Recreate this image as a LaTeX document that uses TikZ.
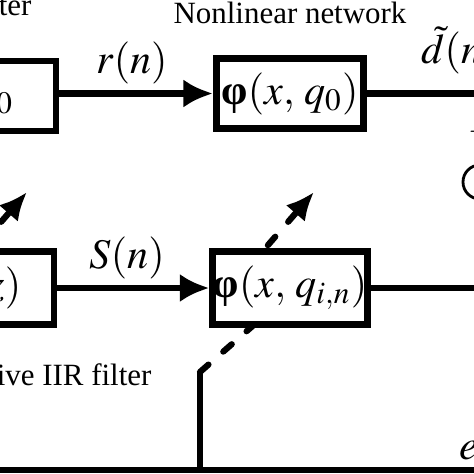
\documentclass[tikz,border=0pt]{standalone}
\usepackage{mathptmx}
\usepackage[no-math]{fontspec}
\setmainfont{Liberation Serif}
\usetikzlibrary{arrows.meta}
\usetikzlibrary{positioning}

\begin{document}
\begin{tikzpicture}[x=0.0125cm, y=-0.0125cm,
        box/.style={draw, line width=2.4pt, fill=white, minimum width=1.84cm,
                    minimum height=0.875cm, inner sep=0pt,
                    font=\fontsize{15}{17}\selectfont},
        wire/.style={line width=2.4pt},
        conn/.style={line width=2.4pt, -{Latex[length=10.5pt,width=10pt]}},
        tune/.style={line width=2.2pt, dash pattern=on 4pt off 7pt, line cap=round,
                     -{Latex[length=10pt,width=9pt]}},
        lbl/.style={inner sep=0pt, font=\fontsize{11}{13}\selectfont},
        sig/.style={inner sep=0pt, font=\fontsize{15}{17}\selectfont}]
\useasboundingbox (0,0) rectangle (474,474);

% adaptation arrows go under the boxes
\coordinate (tap) at (200,372);
\coordinate (tip) at (314,192);
\coordinate (tap2) at (-87,372);
\coordinate (tip2) at (27,192);
\draw[tune] (tap) -- ++(56,-49) -- ++(6,-71) -- (tip);
\draw[tune] (tap2) -- ++(56,-49) -- ++(6,-71) -- (tip2);

% upper branch
\node[box, minimum width=1.55cm] (iir) at (-6,96) {$\theta_0$};
\node[box] (net) at (290,93.5) {{\bfseries φ}$(x,\,q_0)$};
\node[lbl, above=0.38cm of net] (netlbl) {Nonlinear network};
\node[lbl, anchor=base east] (iirlbl) at (32,15) {IIR filter};
\node[sig] (rn) at (132,63) {$r(n)$};
\node[sig] (dn) at (460,50) {$\tilde{d}(n)$};
\coordinate (dout) at (490,93.5);

% lower branch
\node[box, minimum width=1.85cm, minimum height=0.906cm] (aiir) at (-20,288) {$H(z)$};
\node[box, minimum height=0.906cm] (anet) at (290,288) {{\bfseries φ}$(x,\,q_{i,n})$};
\node[lbl, anchor=base east] (aiirlbl) at (152,385) {Adaptive IIR filter};
\node[sig] (sn) at (127,258) {$S(n)$};
\coordinate (yout) at (490,288);

% summing point and error
\node[draw, circle, line width=1pt, minimum size=0.425cm] (sum) at (480,182) {};
\node[lbl] (plus) at (481,132) {$+$};
\node[sig, anchor=west] (en) at (459,449) {$e(n)$};
\coordinate (errR) at (490,470);
\coordinate (errL) at (-10,470);
\coordinate (foot) at (200,470);

\draw[conn] (iir.east |- net) -- (net);
\draw[conn] (aiir) -- (anet);
\draw[wire] (net) -- (dout);
\draw[wire] (anet) -- (yout);
\draw[wire] (errR) -- (errL);
\draw[wire] (foot) -- (tap);
\end{tikzpicture}
\end{document}
